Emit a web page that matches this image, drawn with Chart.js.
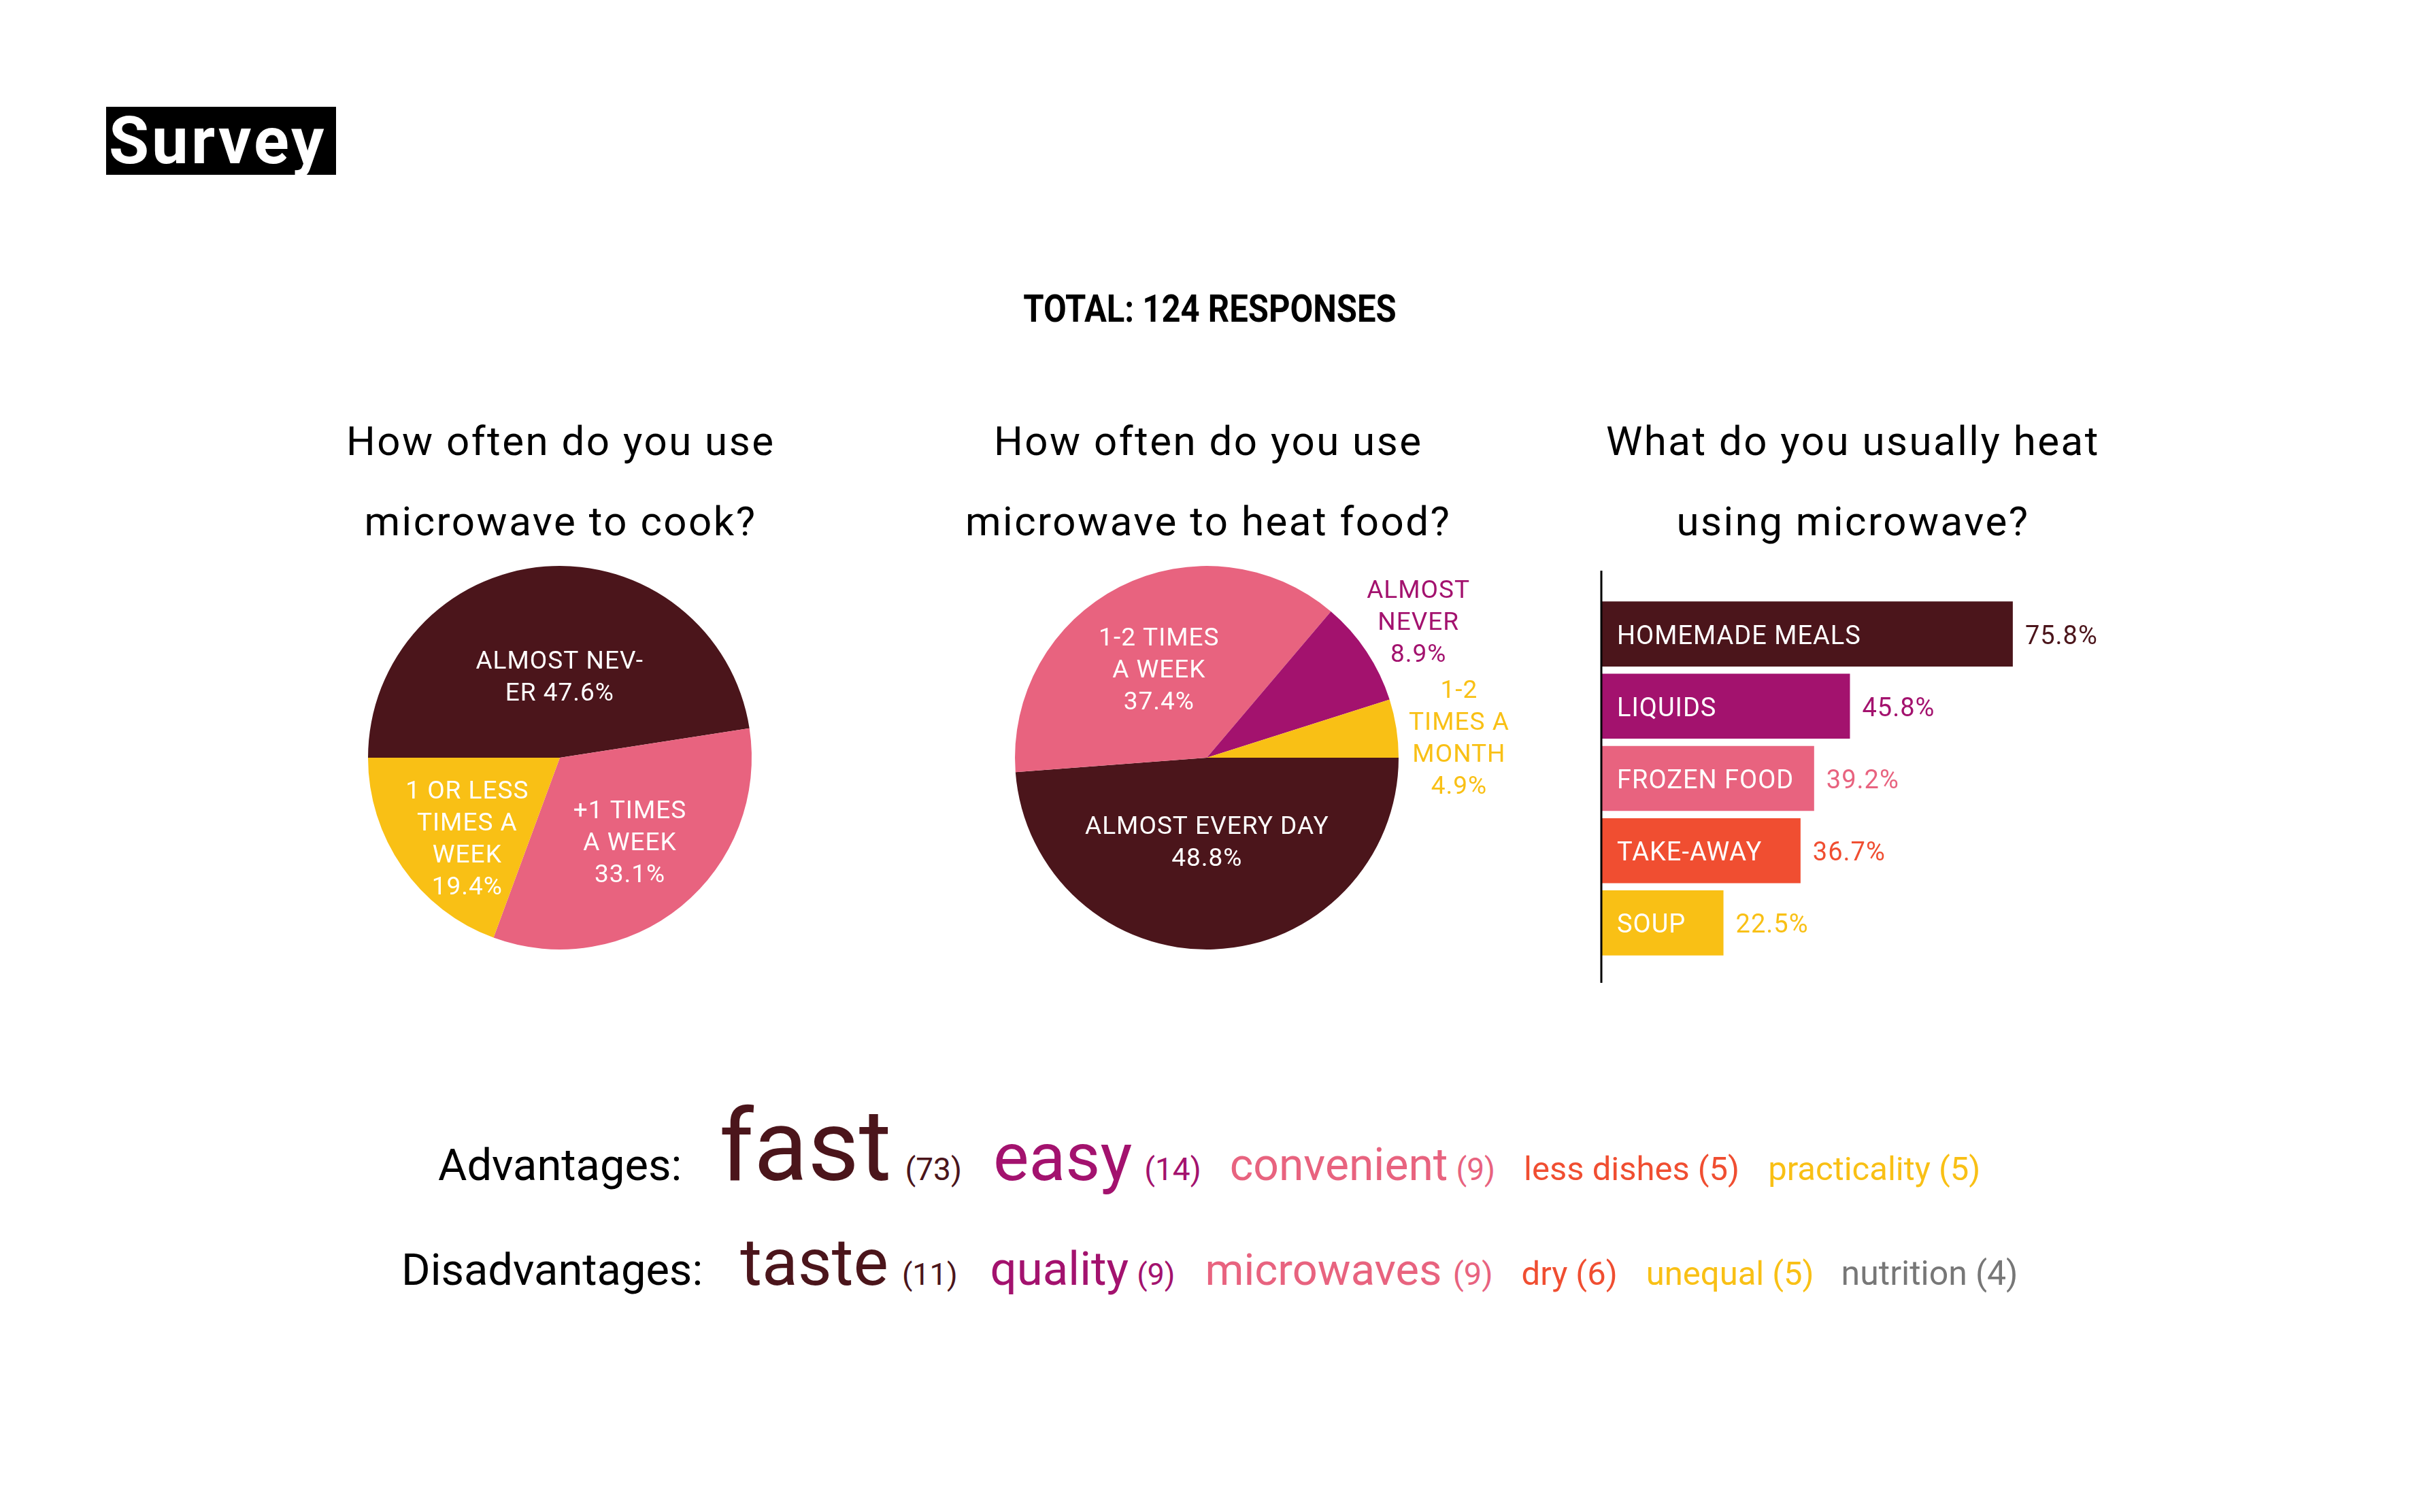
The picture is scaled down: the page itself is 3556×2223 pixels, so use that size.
<!DOCTYPE html>
<html><head><meta charset="utf-8">
<script src="https://cdn.jsdelivr.net/npm/chart.js@4"></script>
<style>
html,body{margin:0;padding:0;background:#fff;}
#page{position:relative;width:3556px;height:2223px;overflow:hidden;background:#fff;font-family:Roboto,'DejaVu Sans',sans-serif;}
canvas{position:absolute;}
.t{position:absolute;white-space:nowrap;left:0;top:0;}
</style></head><body><div id="page">
<div style="position:absolute;left:156px;top:157px;width:338px;height:100px;background:#000"></div>
<canvas id="pie1" width="1000" height="700" style="left:323px;top:764px"></canvas>
<canvas id="pie2" width="1000" height="700" style="left:1274px;top:764px"></canvas>
<canvas id="bars" width="1000" height="630" style="left:2300px;top:830px"></canvas>
</div>
<script>
// ---------- DATA ----------
const totalResponses = 124;

const cookCategories = ['ALMOST NEVER', '+1 TIMES A WEEK', '1 OR LESS TIMES A WEEK'];
const cookValues = [47.6, 33.1, 19.4];
const cookLabelLines = [['ALMOST NEV-', 'ER {v}'], ['+1 TIMES', 'A WEEK', '{v}'], ['1 OR LESS', 'TIMES A', 'WEEK', '{v}']];

const heatCategories = ['ALMOST EVERY DAY', '1-2 TIMES A WEEK', 'ALMOST NEVER', '1-2 TIMES A MONTH'];
const heatValues = [48.8, 37.4, 8.9, 4.9];
const heatLabelLines = [['ALMOST EVERY DAY', '{v}'], ['1-2 TIMES', 'A WEEK', '{v}'], ['ALMOST', 'NEVER', '{v}'], ['1-2', 'TIMES A', 'MONTH', '{v}']];

const foodCategories = ['HOMEMADE MEALS', 'LIQUIDS', 'FROZEN FOOD', 'TAKE-AWAY', 'SOUP'];
const foodValues = [75.8, 45.8, 39.2, 36.7, 22.5];

const advWords = ['fast', 'easy', 'convenient', 'less dishes', 'practicality'];
const advCounts = [73, 14, 9, 5, 5];
const disWords = ['taste', 'quality', 'microwaves', 'dry', 'unequal', 'nutrition'];
const disCounts = [11, 9, 9, 6, 5, 4];

// ---------- STYLE ----------
const DARK = '#4B151B', MAG = '#A3126E', PINK = '#E8637F', ORANGE = '#F04E31', YEL = '#F9C015', GRAY = '#777777';
const FONT = "Roboto, 'DejaVu Sans', sans-serif";
const cookColors = [DARK, PINK, YEL];
const cookLabelColors = ['#fff', '#fff', '#fff'];
const cookLabelRadius = [0.43, 0.565, 0.634];
const cookLabelShift = [4.3, -1, -5.5];
const heatColors = [DARK, PINK, MAG, YEL];
const heatLabelColors = ['#fff', '#fff', MAG, YEL];
const heatLabelRadius = [0.43, 0.53, 1.315, 1.32];
const heatLabelShift = [2, -1, 0.7, 4];
const foodColors = [DARK, MAG, PINK, ORANGE, YEL];
const advColors = [DARK, MAG, PINK, ORANGE, YEL];
const advSizes = [146, 99, 66, 49, 49];
const advCountSizes = [46, 46, 46, 49, 49];
const advWordGap = [20, 18, 12, 12, 12];
const advItemGap = [46, 42, 42, 42];
const disColors = [DARK, MAG, PINK, ORANGE, YEL, GRAY];
const disSizes = [97, 69, 65, 49, 49, 50];
const disCountSizes = [45, 45, 47, 49, 49, 50];
const disWordGap = [20, 12, 16, 12, 12, 12];
const disItemGap = [48, 44, 42, 42, 40];

const page = document.getElementById('page');

function pieLabelPlugin(lines, colors, radii, shifts) {
  return {
    id: 'pieLabels',
    afterDatasetsDraw(chart) {
      const ctx = chart.ctx;
      const meta = chart.getDatasetMeta(0);
      const data = chart.data.datasets[0].data;
      meta.data.forEach((arc, i) => {
        const p = arc.getProps(['x', 'y', 'startAngle', 'endAngle', 'outerRadius'], true);
        const mid = (p.startAngle + p.endAngle) / 2 + shifts[i] * Math.PI / 180;
        const r = p.outerRadius * radii[i];
        const cx = p.x + Math.cos(mid) * r, cy = p.y + Math.sin(mid) * r + 5;
        const ls = lines[i].map(s => s.replace('{v}', data[i].toFixed(1) + '%'));
        ctx.save();
        ctx.font = '37px ' + FONT;
        try { ctx.letterSpacing = '1px'; } catch (e) {}
        ctx.fillStyle = colors[i];
        ctx.textAlign = 'center';
        ctx.textBaseline = 'middle';
        const lh = 47;
        ls.forEach((s, j) => ctx.fillText(s, cx, cy + (j - (ls.length - 1) / 2) * lh));
        ctx.restore();
      });
    }
  };
}

function pie(id, labels, values, colors, rotation, plugin) {
  return new Chart(document.getElementById(id), {
    type: 'pie',
    data: { labels: labels, datasets: [{ data: values, backgroundColor: colors, borderWidth: 0 }] },
    options: {
      responsive: false, animation: false, rotation: rotation,
      layout: { padding: { top: 68, bottom: 68, left: 0, right: 0 } },
      plugins: { legend: { display: false }, tooltip: { enabled: false } }
    },
    plugins: [plugin]
  });
}

pie('pie1', cookCategories, cookValues, cookColors, 270,
    pieLabelPlugin(cookLabelLines, cookLabelColors, cookLabelRadius, cookLabelShift));
pie('pie2', heatCategories, heatValues, heatColors, 90,
    pieLabelPlugin(heatLabelLines, heatLabelColors, heatLabelRadius, heatLabelShift));

const barLabelPlugin = {
  id: 'barLabels',
  afterDatasetsDraw(chart) {
    const ctx = chart.ctx;
    const xs = chart.scales.x, ca = chart.chartArea;
    const x0 = xs.getPixelForValue(0);
    ctx.save();
    ctx.strokeStyle = '#000'; ctx.lineWidth = 3;
    ctx.beginPath(); ctx.moveTo(x0, ca.top - 40); ctx.lineTo(x0, ca.bottom + 35); ctx.stroke();
    ctx.font = '38px ' + FONT;
    try { ctx.letterSpacing = '1px'; } catch (e) {}
    ctx.textBaseline = 'middle'; ctx.textAlign = 'left';
    const meta = chart.getDatasetMeta(0);
    const data = chart.data.datasets[0].data;
    meta.data.forEach((bar, i) => {
      const p = bar.getProps(['x', 'y', 'base'], true);
      ctx.fillStyle = '#fff';
      ctx.fillText(chart.data.labels[i], p.base + 23, p.y + 5);
      ctx.fillStyle = foodColors[i];
      ctx.fillText(data[i].toFixed(1) + '%', p.x + 18, p.y + 5);
    });
    ctx.restore();
  }
};

new Chart(document.getElementById('bars'), {
  type: 'bar',
  data: { labels: foodCategories, datasets: [{ data: foodValues, backgroundColor: foodColors, borderWidth: 0, barPercentage: 0.9, categoryPercentage: 1 }] },
  options: {
    indexAxis: 'y', responsive: false, animation: false,
    layout: { padding: { left: 54, right: 148, top: 49, bottom: 50 } },
    scales: { x: { min: 0, max: 100, display: false }, y: { display: false } },
    plugins: { legend: { display: false }, tooltip: { enabled: false } }
  },
  plugins: [barLabelPlugin]
});

// ---------- TEXT ----------
function place(el, x, baseline, align) {
  const m = document.createElement('span');
  m.style.cssText = 'display:inline-block;width:0;height:0;vertical-align:baseline';
  el.appendChild(m);
  page.appendChild(el);
  const r = el.getBoundingClientRect(), mr = m.getBoundingClientRect();
  const base = mr.bottom - r.top;
  const w = el.offsetWidth;
  el.style.top = (baseline - base) + 'px';
  el.style.left = (align === 'center' ? x - w / 2 : x) + 'px';
}
function text(str, x, baseline, align, css) {
  const d = document.createElement('div');
  d.className = 't';
  d.textContent = str;
  d.style.cssText += css;
  place(d, x, baseline, align);
  return d;
}

text('Survey', 160, 240, 'left', 'font-size:96px;font-weight:bold;color:#fff;letter-spacing:4px;');
text('TOTAL: ' + totalResponses + ' RESPONSES', 1778, 473, 'center', 'font-size:56px;font-weight:bold;color:#000;transform:scaleX(0.875);transform-origin:50% 50%;');

const titleCss = 'font-size:60px;color:#000;letter-spacing:2.5px;';
text('How often do you use', 824, 669, 'center', titleCss);
text('microwave to cook?', 824, 787, 'center', titleCss);
text('How often do you use', 1776, 669, 'center', titleCss);
text('microwave to heat food?', 1776, 787, 'center', titleCss);
text('What do you usually heat', 2724, 669, 'center', titleCss);
text('using microwave?', 2724, 787, 'center', titleCss);

function wordRow(label, words, counts, colors, sizes, countSizes, gaps, itemGaps, x, baseline) {
  const d = document.createElement('div');
  d.className = 't';
  const l = document.createElement('span');
  l.textContent = label;
  l.style.cssText = 'font-size:65px;color:#000;margin-right:55px;';
  d.appendChild(l);
  words.forEach((w, i) => {
    const s = document.createElement('span');
    s.textContent = w;
    s.style.cssText = 'font-size:' + sizes[i] + 'px;color:' + colors[i] + ';margin-right:' + gaps[i] + 'px;';
    const c = document.createElement('span');
    c.textContent = '(' + counts[i] + ')';
    c.style.cssText = 'font-size:' + countSizes[i] + 'px;color:' + colors[i] + ';margin-right:' + (i < words.length - 1 ? itemGaps[i] : 0) + 'px;';
    d.appendChild(s); d.appendChild(c);
  });
  place(d, x, baseline, 'left');
}
wordRow('Advantages:', advWords, advCounts, advColors, advSizes, advCountSizes, advWordGap, advItemGap, 644, 1735);
wordRow('Disadvantages:', disWords, disCounts, disColors, disSizes, disCountSizes, disWordGap, disItemGap, 590, 1889);
</script>
</body></html>
